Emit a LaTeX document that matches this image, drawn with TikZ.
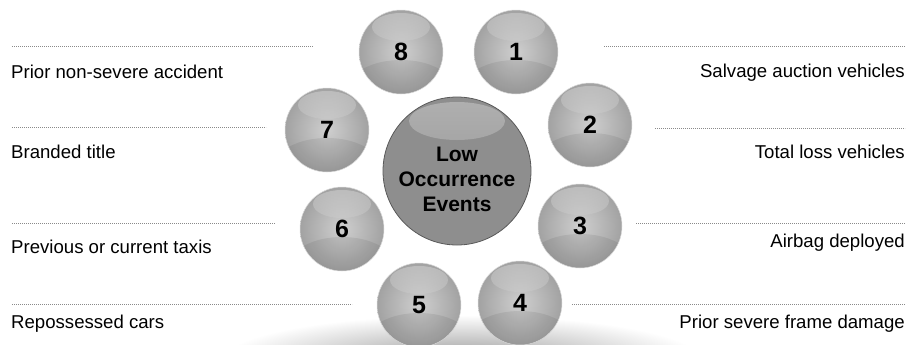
\documentclass[tikz,border=0pt]{standalone}
\usepackage{fontspec}
\setmainfont{Liberation Sans}
\usepackage{tikz}
\usetikzlibrary{positioning,calc}
\definecolor{ballhi}{HTML}{CFCFCF}
\definecolor{ballrim}{HTML}{A2A2A2}
\definecolor{hubgray}{HTML}{8E8E8E}
\definecolor{dotgray}{HTML}{8A8A8A}

\tikzset{
  ball/.style={circle, minimum size=84bp, inner sep=0pt, draw=white!70!gray, line width=0.5bp,
    inner color=ballhi, outer color=ballrim,
    font=\fontsize{25bp}{25bp}\selectfont\bfseries,
    path picture={
      \fill[black, opacity=0.07] ([yshift=-36bp]path picture bounding box.center) ellipse (52bp and 28bp);
      \shade[top color=white!55!ballhi, bottom color=ballhi, opacity=0.35] ([yshift=25bp]path picture bounding box.center) ellipse (29bp and 14bp);
    }},
  hub/.style={circle, minimum size=148bp, inner sep=0pt, fill=hubgray, draw=black!65, line width=0.8bp,
    path picture={
      \shade[top color=white!30!hubgray, bottom color=hubgray] ([yshift=50bp]path picture bounding box.center) ellipse (48bp and 19bp);
    }},
  hubtext/.style={align=center, inner sep=0pt, font=\fontsize{21bp}{25bp}\selectfont\bfseries},
  sepline/.style={draw=dotgray, line width=0.9bp, dash pattern=on 0.9bp off 1.1bp},
  lefttext/.style={anchor=base west, inner sep=0pt, font=\fontsize{18.6bp}{22bp}\selectfont},
  righttext/.style={anchor=base east, inner sep=0pt, font=\fontsize{18.6bp}{22bp}\selectfont},
}

\begin{document}
\begin{tikzpicture}[x=1bp, y=-1bp]
    \useasboundingbox (0,0) rectangle (910,344);
    % floor shadow
    \shade[inner color=black!40, outer color=white] (462,360) ellipse (240bp and 45bp);
    % separator lines
    \draw[sepline] (12,46) -- (313,46);
    \draw[sepline] (12,127) -- (266,127);
    \draw[sepline] (12,223) -- (275,223);
    \draw[sepline] (12,304) -- (352,304);
    \draw[sepline] (604,46) -- (905,46);
    \draw[sepline] (655,128) -- (905,128);
    \draw[sepline] (636,223) -- (905,223);
    \draw[sepline] (572,304) -- (905,304);
    % labels
    \node[lefttext] (t8) at (11,78) {Prior non-severe accident};
    \node[lefttext] (t7) at (11,158) {Branded title};
    \node[lefttext] (t6) at (11,253) {Previous or current taxis};
    \node[lefttext] (t5) at (11,328) {Repossessed cars};
    \node[righttext] (t1) at (905,77) {Salvage auction vehicles};
    \node[righttext] (t2) at (905,158) {Total loss vehicles};
    \node[righttext] (t3) at (905,247) {Airbag deployed};
    \node[righttext] (t4) at (905,328) {Prior severe frame damage};
    % centre
    \node[hub] (hub) at (457,171) {};
    \node[hubtext] (hublabel) at (457,179) {Low\\Occurrence\\Events};
    % balls
    \node[ball] (b1) at (516,52) {1};
    \node[ball] (b2) at (590,125) {2};
    \node[ball] (b3) at (580,226) {3};
    \node[ball] (b4) at (520,303) {4};
    \node[ball] (b5) at (419,305) {5};
    \node[ball] (b6) at (342,229) {6};
    \node[ball] (b7) at (327,130) {7};
    \node[ball] (b8) at (401,52) {8};
\end{tikzpicture}
\end{document}
